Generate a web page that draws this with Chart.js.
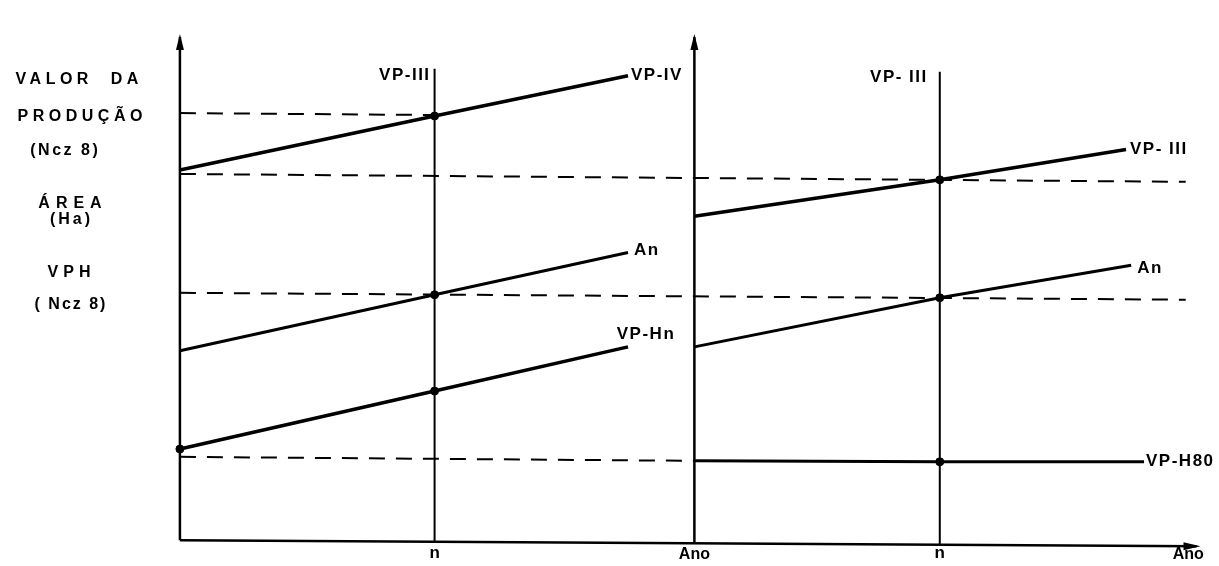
<!DOCTYPE html>
<html>
<head>
<meta charset="utf-8">
<script src="https://cdn.jsdelivr.net/npm/chart.js@4.4.1/dist/chart.umd.min.js"></script>
<style>
    html, body { margin: 0; padding: 0; background: #fff; }
    #wrap { width: 1219px; height: 566px; }
</style>
</head>
<body>
<div id="wrap"><canvas id="diagram" width="1219" height="566"></canvas></div>
<script>
// Axis ticks (x in "years", y in value units)
const xTickValues = [49.5, 100, 147.7, 196];
const xTickLabels = ['n', 'Ano', 'n', 'Ano'];

// Left panel
const vpIV = [[0, 75.4], [49.5, 86.4], [87.1, 94.6]];
const anLeft = [[0, 38.6], [49.5, 50], [87.1, 58.6]];
const vpHnLeft = [[0, 18.6], [49.5, 30.4], [87.1, 39.4]];

// Right panel
const vpIIIRight = [[100, 66], [147.7, 73.4], [183.9, 79.6]];
const anRight = [[100, 39.4], [147.7, 49.4], [184.9, 56]];
const vpH80 = [[100, 16.2], [147.7, 16], [187.4, 16]];

// Dashed reference levels
const dashVPIII = [[0, 87], [49.5, 86.6]];
const dashTop = [[0, 74.6], [195.5, 73]];
const dashAn = [[0, 50.4], [195.5, 49]];
const dashH80 = [[0, 17], [100, 16.2]];

// Intersection dots
const dots = [[49.5, 86.4], [49.5, 50], [49.5, 30.4], [0, 18.6],
              [147.7, 73.4], [147.7, 49.4], [147.7, 16]];

// Axes and the two "n" verticals
const axisLeft = [[0, 0], [0, 102.5]];
const axisMid = [[100, -0.6], [100, 102.5]];
const axisBottom = [[0, 0], [197.6, -1.2]];
const nLeft = [[49.5, -0.3], [49.5, 96]];
const nRight = [[147.7, -0.9], [147.7, 95.4]];

const lineLabels = [
    { text: 'VP-IV', at: vpIV[2], dx: 3, dy: 0, align: 'left' },
    { text: 'An', at: anLeft[2], dx: 6, dy: -2, align: 'left' },
    { text: 'VP-Hn', at: vpHnLeft[2], dx: 18, dy: -13, align: 'center' },
    { text: 'VP- III', at: vpIIIRight[2], dx: 4, dy: 0, align: 'left' },
    { text: 'An', at: anRight[2], dx: 6, dy: 3, align: 'left' },
    { text: 'VP-H80', at: vpH80[2], dx: 2, dy: 0, align: 'left' },
    { text: 'VP-III', at: nLeft[1], dx: -4, dy: 6, align: 'right' },
    { text: 'VP- III', at: nRight[1], dx: -12, dy: 6, align: 'right' }
];

const yTitleLines = [
    { text: 'VALOR  DA', x: 77, y: 80, spacing: 4.5 },
    { text: 'PRODUÇÃO', x: 80, y: 117, spacing: 4.5 },
    { text: '(Ncz 8)', x: 64, y: 151, spacing: 2.5 },
    { text: 'ÁREA', x: 70, y: 204, spacing: 6 },
    { text: '(Ha)', x: 70, y: 220, spacing: 3 },
    { text: 'VPH', x: 69, y: 273, spacing: 5 },
    { text: '( Ncz 8)', x: 70, y: 305, spacing: 2 }
];

function pts(arr) {
    return arr.map(p => ({ x: p[0], y: p[1] }));
}

function line(arr, width, dash) {
    return {
        data: pts(arr),
        showLine: true,
        borderColor: '#000',
        borderWidth: width,
        borderDash: dash || [],
        pointRadius: 0,
        fill: false
    };
}

const DASH = [16, 11];
const FONT = '"Liberation Sans", Arial, sans-serif';

// Arrowheads, labels and the left-hand title, drawn through the chart's scales
const annotations = {
    id: 'annotations',
    afterDatasetsDraw(chart) {
        const ctx = chart.ctx;
        const xs = chart.scales.x;
        const ys = chart.scales.y;
        const px = v => xs.getPixelForValue(v);
        const py = v => ys.getPixelForValue(v);

        ctx.save();
        ctx.fillStyle = '#000';

        // vertical arrowheads
        [axisLeft[1], axisMid[1]].forEach(p => {
            const x = px(p[0]), y = py(p[1]);
            ctx.beginPath();
            ctx.moveTo(x, y - 3);
            ctx.lineTo(x - 4, y + 13);
            ctx.lineTo(x + 4, y + 13);
            ctx.closePath();
            ctx.fill();
        });
        // horizontal arrowhead
        {
            const x = px(axisBottom[1][0]), y = py(axisBottom[1][1]);
            ctx.beginPath();
            ctx.moveTo(x + 4, y);
            ctx.lineTo(x - 13, y - 4);
            ctx.lineTo(x - 13, y + 4);
            ctx.closePath();
            ctx.fill();
        }

        ctx.font = 'bold 17px ' + FONT;
        ctx.letterSpacing = '1.5px';
        ctx.textBaseline = 'middle';
        lineLabels.forEach(l => {
            ctx.textAlign = l.align;
            ctx.fillText(l.text, px(l.at[0]) + l.dx, py(l.at[1]) + l.dy);
        });

        // x tick labels
        ctx.letterSpacing = '0px';
        ctx.textBaseline = 'top';
        ctx.textAlign = 'center';
        xTickValues.forEach((v, i) => {
            ctx.font = xTickLabels[i] === 'n' ? 'bold 17px ' + FONT : 'bold 16px ' + FONT;
            ctx.fillText(xTickLabels[i], px(v), py(0) + (xTickLabels[i] === 'n' ? 4 : 6));
        });

        // left title block
        ctx.textBaseline = 'middle';
        ctx.textAlign = 'center';
        ctx.font = 'bold 16px ' + FONT;
        yTitleLines.forEach(t => {
            ctx.letterSpacing = t.spacing + 'px';
            ctx.fillText(t.text, t.x + t.spacing / 2, t.y);
        });
        ctx.restore();
    }
};

const datasets = [
    line(axisLeft, 2.5),
    line(axisMid, 2.5),
    line(axisBottom, 2.5),
    line(nLeft, 2),
    line(nRight, 2),
    line(dashVPIII, 2, DASH),
    line(dashTop, 2, DASH),
    line(dashAn, 2, DASH),
    line(dashH80, 2, DASH),
    line(vpIV, 3.5),
    line(anLeft, 3),
    line(vpHnLeft, 3.5),
    line(vpIIIRight, 3.5),
    line(anRight, 3),
    line(vpH80, 3),
    {
        data: pts(dots),
        showLine: false,
        pointRadius: 4,
        pointBackgroundColor: '#000',
        pointBorderColor: '#000'
    }
];

new Chart(document.getElementById('diagram').getContext('2d'), {
    type: 'scatter',
    data: { datasets: datasets },
    options: {
        responsive: false,
        animation: false,
        layout: { padding: 0 },
        plugins: { legend: { display: false }, tooltip: { enabled: false } },
        scales: {
            x: { type: 'linear', min: -34, max: 201, display: false },
            y: { type: 'linear', min: -4.2, max: 109, display: false }
        }
    },
    plugins: [annotations]
});
</script>
</body>
</html>
